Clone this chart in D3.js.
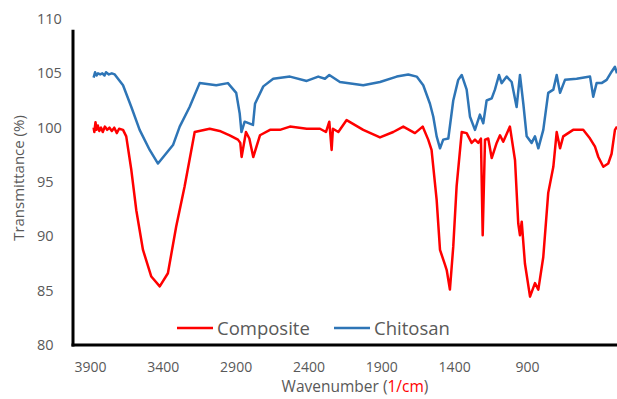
<!DOCTYPE html>
<html><head><meta charset="utf-8">
<script src="https://cdn.jsdelivr.net/npm/d3@7"></script>
<style>html,body{margin:0;padding:0;background:#fff;}svg{display:block;}</style>
</head><body>
<svg id="c" width="617" height="399"></svg>
<script>
const xTicks = [3900, 3400, 2900, 2400, 1900, 1400, 900];
const yTicks = [80, 85, 90, 95, 100, 105, 110];
const seriesNames = ["Composite", "Chitosan"];

const chitosanWave = [3875,3865,3855,3845,3830,3815,3800,3790,3770,3750,3730,3673,3616,3559,3490,3433,3330,3284,3216,3147,3033,2953,2896,2872,2860,2838,2781,2767,2710,2642,2527,2412,2333,2287,2257,2184,2024,1909,1794,1715,1657,1612,1566,1543,1520,1497,1475,1440,1406,1372,1348,1314,1291,1257,1223,1200,1177,1142,1120,1092,1074,1039,1005,971,948,925,902,868,845,822,788,754,719,696,673,639,559,467,445,422,388,353,319,296,282];
const chitosanT = [104.6,105.1,104.8,105.0,104.9,105.0,104.8,105.1,104.9,105.0,104.9,103.9,101.9,99.8,97.95,96.7,98.4,100.1,101.9,104.1,103.9,104.1,103.2,101.3,99.6,100.55,100.25,102.2,103.8,104.5,104.7,104.3,104.7,104.5,104.85,104.2,103.9,104.2,104.7,104.9,104.7,103.9,102.2,101.0,99.2,98.1,98.9,99.0,102.5,104.4,104.85,103.5,101.0,99.8,101.2,100.4,102.5,102.7,103.5,104.85,104.1,104.7,104.2,101.9,104.85,102.2,99.2,98.6,99.2,98.1,99.8,103.2,103.5,104.85,103.2,104.4,104.5,104.7,102.85,104.1,104.1,104.4,105.15,105.6,105.0];

const compositeWave = [3875,3870,3862,3855,3846,3836,3824,3812,3798,3782,3766,3750,3733,3716,3700,3673,3651,3616,3582,3536,3479,3421,3365,3308,3250,3181,3078,3010,2941,2884,2868,2859,2829,2806,2779,2733,2664,2596,2527,2412,2321,2280,2257,2241,2232,2195,2138,2024,1909,1818,1749,1669,1616,1578,1555,1520,1497,1463,1451,1429,1406,1383,1348,1314,1280,1257,1234,1216,1204,1188,1166,1142,1108,1085,1063,1017,982,960,948,936,914,879,845,822,788,754,719,696,673,651,583,514,467,433,410,376,342,319,296,282];
const compositeT = [100.0,99.6,100.5,99.8,100.2,99.7,100.0,99.6,100.1,99.8,100.0,99.7,100.0,99.5,99.9,99.8,99.2,96.1,92.4,88.75,86.3,85.4,86.6,90.9,94.6,99.6,99.9,99.7,99.3,98.9,98.6,97.3,99.6,99.0,97.3,99.3,99.8,99.8,100.1,99.9,99.9,99.6,100.55,97.95,99.9,99.6,100.7,99.8,99.1,99.6,100.1,99.5,100.1,98.9,97.95,93.35,88.75,87.4,86.9,85.1,89.05,94.6,99.6,99.5,98.6,98.9,98.6,99.0,90.1,98.9,99.0,97.2,98.6,99.3,98.7,100.1,97.0,91.2,90.1,91.35,87.5,84.45,85.7,85.1,88.1,94.0,96.4,99.6,98.1,99.2,99.8,99.8,99.0,98.25,97.3,96.4,96.7,97.6,99.8,100.1];

const svg = d3.select("#c");
const W = 617, H = 399;
svg.append("rect").attr("width", W).attr("height", H).attr("fill", "#fff");

const x = d3.scaleLinear().domain([4000, 400]).range([75.4, 599.8]);
const y = d3.scaleLinear().domain([80, 110]).range([345, 19]);

const font = "'Open Sans', sans-serif";
const gray = "#595959";

// axes
const xAxis = svg.append("g").attr("transform", `translate(0,${y(80)})`)
  .call(d3.axisBottom(x).tickValues(xTicks).tickSize(0).tickPadding(17).tickFormat(d3.format("d")));
xAxis.select(".domain").remove();
xAxis.selectAll("text").attr("font-family", font).attr("font-size", 14).attr("fill", gray);

const yAxis = svg.append("g").attr("transform", "translate(73,0)")
  .call(d3.axisLeft(y).tickValues(yTicks).tickSize(0).tickFormat(d3.format("d")));
yAxis.select(".domain").remove();
yAxis.selectAll("text").attr("font-family", font).attr("font-size", 14.5).attr("fill", gray)
  .attr("text-anchor", "start").attr("x", -36);

// series lines
const line = d3.line().x(d => x(d[0])).y(d => y(d[1]));
const chitosan = chitosanWave.map((w, i) => [w, chitosanT[i]]);
const composite = compositeWave.map((w, i) => [w, compositeT[i]]);

svg.append("path").datum(chitosan).attr("d", line).attr("fill", "none")
  .attr("stroke", "#2e75b6").attr("stroke-width", 2.5).attr("stroke-linejoin", "round");
svg.append("path").datum(composite).attr("d", line).attr("fill", "none")
  .attr("stroke", "#ff0000").attr("stroke-width", 2.5).attr("stroke-linejoin", "round");

// axis lines
svg.append("line").attr("x1", 73).attr("x2", 73).attr("y1", y(109)).attr("y2", y(80) + 1.5)
  .attr("stroke", "#000").attr("stroke-width", 3);
svg.append("line").attr("x1", 71.5).attr("x2", W).attr("y1", y(80)).attr("y2", y(80))
  .attr("stroke", "#000").attr("stroke-width", 3);

// axis titles
svg.append("text").attr("transform", `translate(19,${(y(110)+y(80))/2 - 4}) rotate(-90)`)
  .attr("text-anchor", "middle").attr("dy", "0.35em")
  .attr("font-family", font).attr("font-size", 15).attr("fill", gray)
  .text("Transmittance (%)");

const xt = svg.append("text").attr("x", 355).attr("y", 392)
  .attr("text-anchor", "middle").attr("font-family", font).attr("font-size", 15.5).attr("fill", gray);
xt.append("tspan").text("Wavenumber (");
xt.append("tspan").attr("fill", "#ff0000").text("1/cm");
xt.append("tspan").text(")");

// legend
const legendColors = ["#ff0000", "#2e75b6"];
const legendX = [177, 334];
const lg = svg.append("g");
seriesNames.forEach((n, i) => {
  lg.append("line").attr("x1", legendX[i]).attr("x2", legendX[i] + 36).attr("y1", 328).attr("y2", 328)
    .attr("stroke", legendColors[i]).attr("stroke-width", 2.5);
  lg.append("text").attr("x", legendX[i] + 40).attr("y", 329).attr("dy", "0.35em")
    .attr("font-family", font).attr("font-size", 18.5).attr("fill", gray).text(n);
});
</script>
</body></html>
